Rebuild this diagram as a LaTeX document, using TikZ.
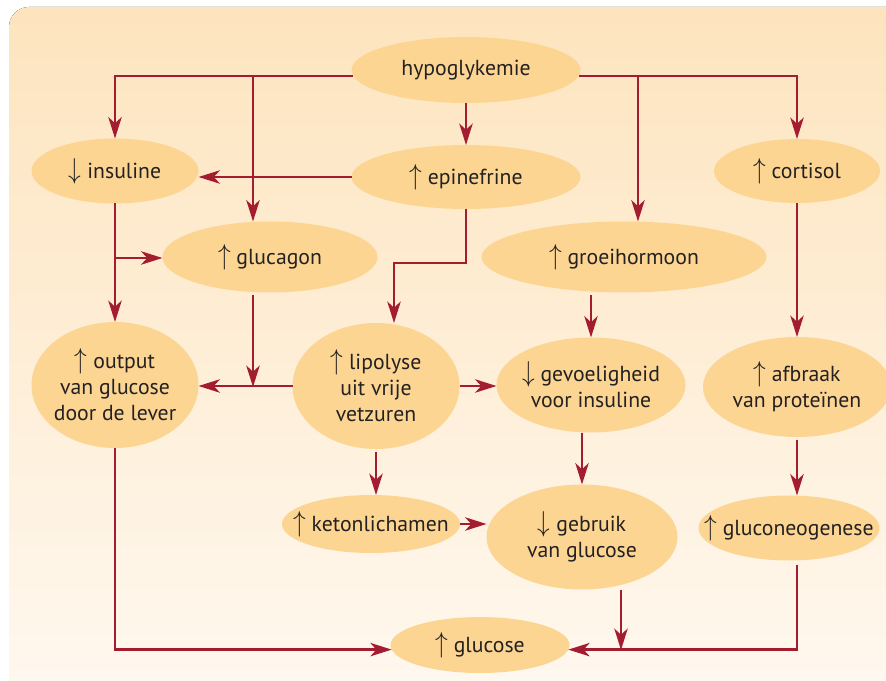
\documentclass[tikz,border=0pt]{standalone}
\usepackage{fontspec}
\usepackage{graphicx}
\setmainfont{PT Sans}
\usetikzlibrary{shapes.geometric,arrows.meta,calc}
\definecolor{arrowc}{RGB}{164,28,48}
\definecolor{fillc}{RGB}{253,213,147}
\definecolor{bgtop}{RGB}{253,228,190}
\definecolor{bgbot}{RGB}{255,249,241}
\definecolor{textc}{RGB}{35,33,33}
\newcommand{\up}{\scalebox{1.1}[1.25]{$\uparrow$}\ }
\newcommand{\dn}{\scalebox{1.1}[1.25]{$\downarrow$}\ }
\begin{document}
\begin{tikzpicture}[x=0.75pt,y=-0.75pt,
  bubble/.style={ellipse, fill=fillc, inner sep=-60pt, outer sep=0pt, align=center,
    text=textc, font=\fontsize{16.3}{19.5}\selectfont},
  sz/.style 2 args={minimum width=#1*0.75pt, minimum height=#2*0.75pt},
  arr/.style={draw=arrowc, line width=1.9pt, -{Stealth[length=16pt,width=10pt,inset=4.5pt]}}]
\useasboundingbox (0,0) rectangle (886,681);
\fill[rounded corners=15pt, top color=bgtop, bottom color=bgbot] (9,7) rectangle (930,720);

% nodes
\node[bubble, sz={229}{66}] (hypo) at (466,70) {hypoglykemie};
\node[bubble, sz={229}{64}] (epi) at (466,177) {\up epinefrine};
\node[bubble, sz={167}{65}] (ins) at (115,171) {\dn insuline};
\node[bubble, sz={166}{64}] (cort) at (797,171) {\up cortisol};
\node[bubble, sz={215}{71}] (gluc) at (270,257) {\up glucagon};
\node[bubble, sz={285}{71}] (groei) at (624,257) {\up groeihormoon};
\node[bubble, sz={167}{126}] (out) at (115,385) {\up output\\van glucose\\door de lever};
\node[bubble, sz={167}{126}] (lip) at (376,386) {\up lipolyse\\uit vrije\\vetzuren};
\node[bubble, sz={189}{95}] (gev) at (591,385) {\dn gevoeligheid\\voor insuline};
\node[bubble, sz={188}{100}] (afb) at (797,387) {\up afbraak\\van proteïnen};
\node[bubble, sz={178}{58}] (ket) at (371,524) {\up ketonlichamen};
\node[bubble, sz={191}{105}] (geb) at (582,537) {\dn gebruik\\van glucose};
\node[bubble, sz={181}{65}] (gng) at (789,528) {\up gluconeogenese};
\node[bubble, sz={179}{56}] (glu) at (480,645) {\up glucose};

% junction points
\coordinate (j1) at (253,76);
\coordinate (j2) at (638,76);
\coordinate (j3) at (394,263);
\coordinate (j4) at (115,258);
\coordinate (j5) at (253,387);
\coordinate (j6) at (621,650);

% connectors
\draw[arr] (hypo.183) -| (ins.north);
\draw[arr] (j1) -- (j1 |- gluc.north);
\draw[arr] (hypo.south) -- (epi.north);
\draw[arr] (hypo.357) -| (cort.north);
\draw[arr] (j2) -- (j2 |- groei.north);
\draw[arr] (epi.west) -- (epi.west -| ins.east);
\draw[arr] (epi.south) |- (j3) -- (j3 |- lip.north);
\draw[arr] (ins.south) -- (out.north);
\draw[arr] (j4) -- (j4 -| gluc.west);
\draw[arr] ($(j5 |- gluc.south)+(0,3)$) -- (j5);
\draw[arr] (lip.west) -- (lip.west -| out.east);
\draw[arr] (lip.east) -- (lip.east -| gev.west);
\draw[arr] ($(gev.north |- groei.south)+(0,3)$) -- (gev.north);
\draw[arr] (cort.south) -- (afb.north);
\draw[arr] ($(afb.south)+(0,3)$) -- (afb.south |- gng.north);
\draw[arr] (gev.south -| geb.north) -- (geb.north);
\draw[arr] ($(lip.south)+(0,3)$) -- (lip.south |- ket.north);
\draw[arr] (ket.east) -- (ket.east -| geb.west);
\draw[arr] (out.south) |- (glu.183);
\draw[arr] ($(afb.south |- gng.south)+(0,4)$) |- (glu.357);
\draw[arr] ($(j6 |- geb.south)$) -- (j6);
\end{tikzpicture}
\end{document}
